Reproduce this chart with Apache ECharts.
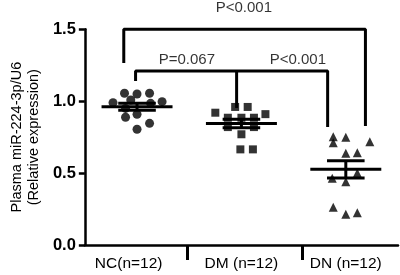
<!DOCTYPE html>
<html>
<head>
<meta charset="utf-8">
<script src="https://cdn.jsdelivr.net/npm/echarts@6/dist/echarts.min.js"></script>
<style>
html, body { margin: 0; padding: 0; background: #fff; }
#chart { width: 400px; height: 275px; }
</style>
</head>
<body>
<div id="chart"></div>
<script>
// group labels
const groups = ['NC(n=12)', 'DM (n=12)', 'DN (n=12)']

// relative expression values
const ncValues = [1.055, 1.05, 1.055, 0.99, 1.008, 0.985, 0.997, 0.95, 0.888, 0.909, 0.805, 0.846]
const dmValues = [0.96, 0.96, 0.92, 0.91, 0.885, 0.885, 0.885, 0.82, 0.82, 0.77, 0.665, 0.665]
const dnValues = [0.753, 0.711, 0.749, 0.718, 0.638, 0.642, 0.464, 0.44, 0.5, 0.262, 0.213, 0.225]

// horizontal scatter of each point inside its group (category units)
const ncJitter = [-0.12, 0, 0.12, -0.23, -0.06, 0.13, 0.24, -0.11, -0.11, 0, 0, 0.12]
const dmJitter = [-0.06, 0.06, -0.25, 0.23, -0.13, 0, 0.12, -0.13, 0.12, 0, -0.01, 0.11]
const dnJitter = [-0.12, -0.12, 0, 0.23, 0, 0.11, -0.13, 0, 0.11, -0.12, 0, 0.11]

// significance brackets
const pLabels = ['P<0.001', 'P=0.067', 'P<0.001']

const black = '#000'
const font = 'Liberation Sans, Arial, sans-serif'

const toPoints = (vals, jit, idx) => vals.map((v, i) => [idx + jit[i], v])

const stats = [ncValues, dmValues, dnValues].map((vals, idx) => {
    const n = vals.length
    const mean = vals.reduce((a, b) => a + b, 0) / n
    const sd = Math.sqrt(vals.reduce((a, b) => a + (b - mean) * (b - mean), 0) / (n - 1))
    return [idx, mean, sd / Math.sqrt(n)]
})

const bracketLine = (pts) => ({
    type: 'line',
    data: pts,
    symbol: 'none',
    clip: false,
    silent: true,
    lineStyle: { color: black, width: 3 },
    z: 3
})

const chart = echarts.init(document.getElementById('chart'))
chart.setOption({
    backgroundColor: '#fff',
    animation: false,
    grid: { left: 71, right: 2, top: 29.3, bottom: 30 },
    xAxis: {
        type: 'value',
        min: -0.5,
        max: 2.5,
        splitLine: { show: false },
        axisLine: { show: true, onZero: false, lineStyle: { color: black, width: 2.5 } },
        axisTick: {
            show: true,
            customValues: [0.48, 1.58],
            length: 15,
            lineStyle: { color: black, width: 3 }
        },
        axisLabel: {
            customValues: [-0.08, 1, 2],
            formatter: (v) => groups[Math.round(v)] || '',
            color: black,
            fontSize: 15.5,
            fontFamily: font,
            margin: 11
        }
    },
    yAxis: {
        type: 'value',
        min: 0,
        max: 1.5,
        interval: 0.5,
        name: 'Plasma miR-224-3p/U6\n(Relative expression)',
        nameLocation: 'middle',
        nameGap: 36,
        nameTextStyle: { color: black, fontSize: 14.5, fontFamily: font, lineHeight: 17 },
        splitLine: { show: false },
        axisLine: { show: true, onZero: false, lineStyle: { color: black, width: 2.5 } },
        axisTick: { show: true, length: 6, lineStyle: { color: black, width: 2.5 } },
        axisLabel: {
            formatter: (v) => v.toFixed(1),
            color: black,
            fontSize: 16.5,
            fontWeight: 'bold',
            fontFamily: font,
            margin: 9
        }
    },
    series: [
        {
            type: 'scatter',
            data: toPoints(ncValues, ncJitter, 0),
            symbol: 'circle',
            symbolSize: 9,
            itemStyle: { color: black }
        },
        {
            type: 'scatter',
            data: toPoints(dmValues, dmJitter, 1),
            symbol: 'rect',
            symbolSize: 8,
            itemStyle: { color: black }
        },
        {
            type: 'scatter',
            data: toPoints(dnValues, dnJitter, 2),
            symbol: 'triangle',
            symbolSize: 9,
            itemStyle: { color: black }
        },
        {
            // mean line with SEM whiskers
            type: 'custom',
            data: stats,
            z: 4,
            renderItem: (params, api) => {
                const x = api.value(0), m = api.value(1), s = api.value(2)
                const style = { stroke: black, lineWidth: 3 }
                const seg = (x1, y1, x2, y2) => {
                    const a = api.coord([x1, y1]), b = api.coord([x2, y2])
                    return { type: 'line', shape: { x1: a[0], y1: a[1], x2: b[0], y2: b[1] }, style }
                }
                return {
                    type: 'group',
                    children: [
                        seg(x - 0.34, m, x + 0.34, m),
                        seg(x, m - s, x, m + s),
                        seg(x - 0.18, m - s, x + 0.18, m - s),
                        seg(x - 0.18, m + s, x + 0.18, m + s)
                    ]
                }
            }
        },
        bracketLine([[-0.127, 1.266], [-0.127, 1.5], [2.188, 1.5], [2.188, 0.828]]),
        bracketLine([[-0.014, 1.14], [-0.014, 1.21], [1.826, 1.21], [1.826, 0.82]]),
        bracketLine([[0.954, 1.21], [0.954, 0.953]]),
        {
            type: 'scatter',
            data: [[1.023, 1.648], [0.477, 1.287], [1.541, 1.287]],
            symbolSize: 0,
            clip: false,
            silent: true,
            label: {
                show: true,
                position: 'inside',
                formatter: (p) => pLabels[p.dataIndex],
                color: black,
                fontSize: 15,
                fontFamily: font
            }
        }
    ]
})
</script>
</body>
</html>
